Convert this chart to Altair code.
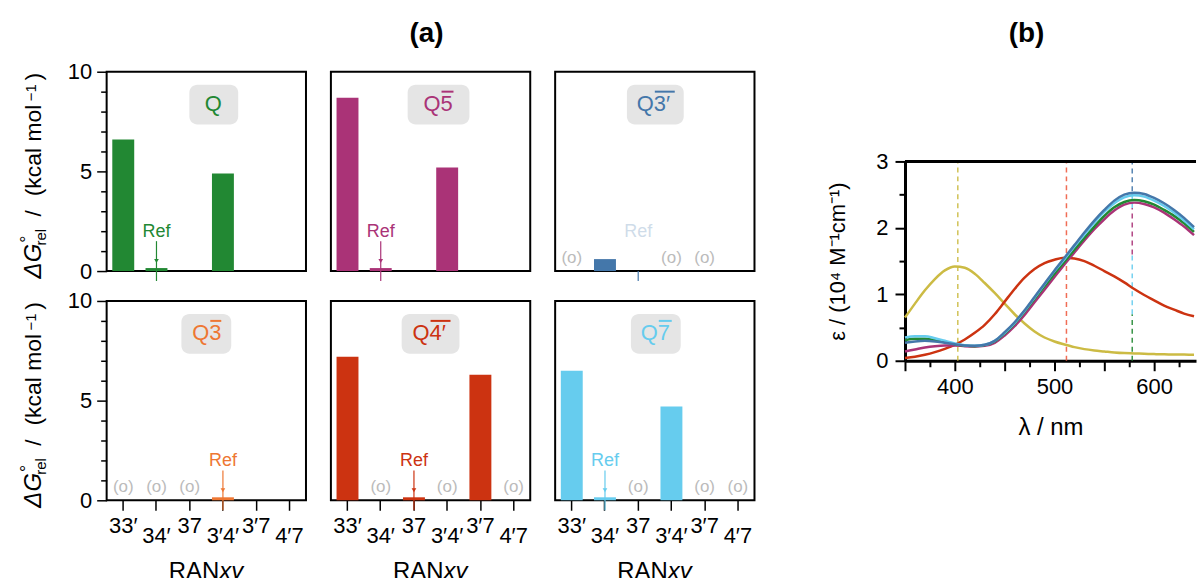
import altair as alt
import pandas as pd

FONT = "Liberation Sans"

# ---------------- panel (a) data ----------------
cats = ["33′", "34′", "37", "3′4′", "3′7", "4′7"]
panel_prefix = ["Q", "Q", "Q", "Q", "Q", "Q"]
panel_suffix = ["", "5", "3′", "3", "4′", "7"]
panel_colors = ["#228833", "#AA3377", "#4477AA", "#EE7733", "#CC3311", "#66CCEE"]

vals_Q = [6.6, 0.15, None, 4.9, None, None]
vals_Q5 = [8.7, 0.15, None, 5.2, None, None]
vals_Q3p = [None, 0.6, None, None, None, None]
vals_Q3 = [None, None, None, 0.15, None, None]
vals_Q4p = [7.2, None, 0.15, None, 6.3, None]
vals_Q7 = [6.5, 0.15, None, 4.7, None, None]
all_vals = [vals_Q, vals_Q5, vals_Q3p, vals_Q3, vals_Q4p, vals_Q7]

ref_cat = ["34′", "34′", "37", "3′4′", "37", "34′"]
o_cats = [[], [], ["33′", "3′4′", "3′7"], ["33′", "34′", "37"],
          ["34′", "3′4′", "4′7"], ["37", "3′7", "4′7"]]

# ---------------- panel (b) data ----------------
lam = [350, 360, 370, 380, 390, 400, 410, 420, 430, 440,
       450, 460, 470, 480, 490, 500, 510, 520, 530, 540,
       550, 560, 570, 580, 590, 600, 610, 620, 630, 640]
eps_yellow = [0.65, 0.86, 1.06, 1.23, 1.36, 1.42, 1.40, 1.31, 1.17, 1.02,
              0.86, 0.70, 0.56, 0.44, 0.35, 0.29, 0.245, 0.205, 0.175, 0.155,
              0.14, 0.125, 0.115, 0.11, 0.105, 0.10, 0.097, 0.095, 0.093, 0.091]
eps_Q4p = [0.04, 0.06, 0.09, 0.13, 0.18, 0.24, 0.32, 0.42, 0.54, 0.70,
           0.89, 1.08, 1.25, 1.38, 1.47, 1.52, 1.55, 1.54, 1.50, 1.43,
           1.35, 1.27, 1.18, 1.08, 0.99, 0.91, 0.83, 0.77, 0.71, 0.67]
eps_Q5 = [0.14, 0.17, 0.20, 0.22, 0.23, 0.23, 0.22, 0.215, 0.225, 0.27,
          0.38, 0.52, 0.69, 0.88, 1.07, 1.26, 1.45, 1.63, 1.81, 1.98,
          2.13, 2.26, 2.35, 2.38, 2.36, 2.31, 2.23, 2.13, 2.02, 1.89]
eps_Q = [0.31, 0.33, 0.33, 0.31, 0.28, 0.25, 0.23, 0.22, 0.235, 0.29,
         0.41, 0.56, 0.74, 0.93, 1.12, 1.31, 1.49, 1.67, 1.85, 2.02,
         2.18, 2.31, 2.39, 2.42, 2.40, 2.35, 2.27, 2.18, 2.07, 1.94]
eps_Q7 = [0.35, 0.37, 0.37, 0.34, 0.30, 0.26, 0.235, 0.225, 0.24, 0.30,
          0.42, 0.57, 0.75, 0.95, 1.15, 1.35, 1.53, 1.72, 1.90, 2.08,
          2.24, 2.37, 2.46, 2.49, 2.47, 2.41, 2.33, 2.23, 2.11, 1.98]
eps_Q3p = [0.27, 0.29, 0.30, 0.29, 0.27, 0.25, 0.23, 0.225, 0.24, 0.30,
           0.43, 0.58, 0.76, 0.96, 1.16, 1.36, 1.55, 1.74, 1.93, 2.11,
           2.27, 2.41, 2.50, 2.53, 2.51, 2.45, 2.37, 2.27, 2.15, 2.01]
curve_series = [eps_yellow, eps_Q4p, eps_Q5, eps_Q, eps_Q7, eps_Q3p]
curve_colors = ["#CCBB44", "#CC3311", "#AA3377", "#228833", "#66CCEE", "#4477AA"]

vl_lam = [403, 512, 578, 578, 578, 578, 578]
vl_lo = [0, 0, 0, 0.7, 1.6, 2.3, 2.55]
vl_hi = [3, 3, 0.7, 1.6, 2.3, 2.55, 3]
vl_col = ["#CCBB44", "#EE5D44", "#228833", "#66CCEE", "#AA3377", "#66CCEE", "#4477AA"]

one = pd.DataFrame({"k": [0]})

# label box geometry (panel-relative pixels)
label_split = [107, 110, 99, 103, 99, 103]
label_over_w = [0, 13, 21, 12, 21, 14]
box_x = [(83, 132), (77, 139), (72, 129), (75, 125), (71, 129), (76, 126)]


def ytitle_pieces():
    bx = -66
    pieces = [
        ("ΔG", bx, 190, 24, "italic"),
        ("°", -74, 168, 18, "normal"),
        ("rel", -61, 166, 15, "normal"),
        ("/", bx, 142, 23, "normal"),
        ("(kcal mol", bx, 79, 23, "normal"),
        ("−1", -71, 21, 15, "normal"),
        (")", bx, 5, 23, "normal"),
    ]
    out = []
    for txt, x, y, fs, st in pieces:
        out.append(
            alt.Chart(one).mark_text(angle=270, align="center", baseline="alphabetic",
                                     fontSize=fs, fontStyle=st, color="black")
            .encode(x=alt.value(x), y=alt.value(y), text=alt.value(txt))
        )
    return out


def bar_panel(i, row, col):
    color = panel_colors[i]
    df = pd.DataFrame({"cat": cats, "val": all_vals[i]})
    xs = alt.Scale(domain=cats, paddingInner=0.34, paddingOuter=0.17)
    if row == 1:
        xax = alt.Axis(title=None, labelAngle=0, labelFontSize=22, labelColor="black",
                       tickSize=10, tickWidth=1.5, tickColor="black", domain=False,
                       labelPadding={"condition": {"test": "indexof(['34′','3′4′','4′7'], datum.value) >= 0",
                                                   "value": 15}, "value": 5})
    else:
        xax = None
    X = alt.X("cat:N", sort=cats, scale=xs, axis=xax)
    ys = alt.Scale(domain=[0, 10], nice=False, zero=True)
    if col == 0:
        yax = alt.Axis(title=None, values=list(range(11)),
                       labelExpr="datum.value % 5 === 0 ? datum.label : ''",
                       tickSize={"condition": {"test": "datum.value % 5 === 0", "value": 10}, "value": 6},
                       tickWidth=1.5, tickColor="black", domain=False, grid=False,
                       labelFontSize=22, labelColor="black", labelPadding=5)
    else:
        yax = None

    def Yd(v):
        return alt.YDatum(v, scale=ys, axis=yax)

    layers = []
    bx0, bx1 = box_x[i]
    layers.append(alt.Chart(one).mark_rect(color="#e5e5e5", cornerRadius=8)
                  .encode(x=alt.value(bx0), x2=alt.value(bx1), y=alt.value(13), y2=alt.value(53)))
    layers.append(alt.Chart(df).mark_bar(color=color)
                  .encode(x=X, y=alt.Y("val:Q", scale=ys, axis=yax)))
    rdf = pd.DataFrame({"cat": [ref_cat[i]]})
    visible = i != 2
    layers.append(alt.Chart(rdf).mark_text(fontSize=18, color=color, baseline="alphabetic",
                                           opacity=1 if visible else 0.25)
                  .encode(x=X, y=Yd(1.72), text=alt.value("Ref")))
    layers.append(alt.Chart(rdf).mark_rule(color=color, strokeWidth=1.2)
                  .encode(x=X, y=Yd(1.5 if visible else 0), y2=alt.Y2Datum(-0.5)))
    if visible:
        layers.append(alt.Chart(rdf).mark_point(shape="triangle-down", filled=True, size=22,
                                                color=color, opacity=1)
                      .encode(x=X, y=Yd(0.5)))
    if o_cats[i]:
        odf = pd.DataFrame({"cat": o_cats[i]})
        layers.append(alt.Chart(odf).mark_text(fontSize=17, color="#bbbbbb", baseline="middle")
                      .encode(x=X, y=Yd(0.65), text=alt.value("(o)")))
    # label
    split = label_split[i]
    if panel_suffix[i] == "":
        layers.append(alt.Chart(one).mark_text(fontSize=22, color=color, align="center",
                                               baseline="alphabetic")
                      .encode(x=alt.value(split), y=alt.value(39), text=alt.value(panel_prefix[i])))
    else:
        layers.append(alt.Chart(one).mark_text(fontSize=22, color=color, align="right",
                                               baseline="alphabetic")
                      .encode(x=alt.value(split), y=alt.value(39), text=alt.value(panel_prefix[i])))
        layers.append(alt.Chart(one).mark_text(fontSize=22, color=color, align="left",
                                               baseline="alphabetic")
                      .encode(x=alt.value(split), y=alt.value(39), text=alt.value(panel_suffix[i])))
        layers.append(alt.Chart(one).mark_rule(color=color, strokeWidth=2)
                      .encode(x=alt.value(split + 1), x2=alt.value(split + label_over_w[i]),
                              y=alt.value(20)))
    if row == 1:
        layers.append(alt.Chart(one).mark_text(fontSize=24, align="right", baseline="alphabetic",
                                               color="black")
                      .encode(x=alt.value(113), y=alt.value(279), text=alt.value("RAN")))
        layers.append(alt.Chart(one).mark_text(fontSize=24, align="left", baseline="alphabetic",
                                               fontStyle="italic", color="black")
                      .encode(x=alt.value(113), y=alt.value(279), text=alt.value("xy")))
    if col == 0:
        layers.extend(ytitle_pieces())
    if i == 1:
        layers.append(alt.Chart(one).mark_text(fontSize=28, fontWeight="bold", baseline="middle",
                                               color="black")
                      .encode(x=alt.value(96), y=alt.value(-38), text=alt.value("(a)")))
    return alt.layer(*layers).properties(width=200, height=200)


panels = [bar_panel(i, i // 3, i % 3) for i in range(6)]

# ---------------- panel (b) ----------------
OFF = 90      # plot frame of (b) starts 90 px below the top of row 1
xs_b = alt.Scale(domain=[350, 642], nice=False, zero=False)
ys_b = alt.Scale(domain=[0, 3], nice=False, range=[200 + OFF, OFF])
xax_b = alt.Axis(values=[350, 375, 400, 425, 450, 475, 500, 525, 550, 575, 600, 625],
                 labelExpr="datum.value % 100 === 0 ? datum.label : ''",
                 tickSize={"condition": {"test": "datum.value % 50 === 0", "value": 10}, "value": 6},
                 tickWidth=2, tickColor="black", domainWidth=3, domainColor="black",
                 labelFontSize=22, labelColor="black", labelPadding=6, labelFlush=False,
                 grid=False, title="λ / nm", titleFontSize=24, titleFontWeight="normal",
                 titleColor="black", titlePadding=18, offset=OFF)
yax_b = alt.Axis(values=[0, 0.5, 1, 1.5, 2, 2.5, 3],
                 labelExpr="datum.value % 1 === 0 ? format(datum.value, 'd') : ''",
                 tickSize={"condition": {"test": "datum.value % 1 === 0", "value": 10}, "value": 6},
                 tickWidth=2, tickColor="black", domainWidth=3, domainColor="black",
                 labelFontSize=22, labelColor="black", labelPadding=7, labelFlush=False,
                 grid=False, title="ε / (10⁴ M⁻¹cm⁻¹)", titleFontSize=22,
                 titleFontWeight="normal", titleColor="black", titlePadding=26)
XB = alt.X("lam:Q", scale=xs_b, axis=xax_b)

vdf = pd.DataFrame({"lam": vl_lam, "lo": vl_lo, "hi": vl_hi, "c": vl_col})
b_layers = [
    alt.Chart(vdf).mark_rule(strokeDash=[5, 4], strokeWidth=1.5, opacity=0.9)
    .encode(x=XB, y=alt.Y("lo:Q", scale=ys_b, axis=yax_b), y2="hi:Q",
            color=alt.Color("c:N", scale=None))
]
for s, c in zip(curve_series, curve_colors):
    cdf = pd.DataFrame({"lam": lam, "eps": s})
    b_layers.append(alt.Chart(cdf).mark_line(strokeWidth=2.5, interpolate="monotone", clip=False,
                                             color=c)
                    .encode(x=XB, y=alt.Y("eps:Q", scale=ys_b, axis=yax_b)))
b_layers.append(alt.Chart(one).mark_rule(color="black", strokeWidth=3)
                .encode(x=alt.value(0), x2=alt.value(292), y=alt.value(OFF)))
b_layers.append(alt.Chart(one).mark_text(fontSize=28, fontWeight="bold", baseline="middle",
                                         color="black")
                .encode(x=alt.value(122), y=alt.value(-38), text=alt.value("(b)")))
plot_b = alt.layer(*b_layers).properties(width=292, height=200,
                                          view=alt.ViewBackground(stroke="transparent"))

gap = (alt.Chart(one).mark_text(text="", fontSize=1)
       .encode(x=alt.value(0), y=alt.value(0))
       .properties(width=101, height=10, view=alt.ViewBackground(stroke="transparent")))

chart = (
    alt.concat(panels[0], panels[1], panels[2], gap, plot_b,
               panels[3], panels[4], panels[5],
               columns=5, align="none", bounds="flush",
               spacing={"row": 30, "column": 25})
    .properties(padding={"left": 18, "top": 18, "right": 0, "bottom": -8},
                autosize=alt.AutoSizeParams(type="pad"), background="white")
    .configure(font=FONT)
    .configure_view(stroke="black", strokeWidth=2)
)

chart.save("out.html", embed_options={"renderer": "svg", "actions": False})
